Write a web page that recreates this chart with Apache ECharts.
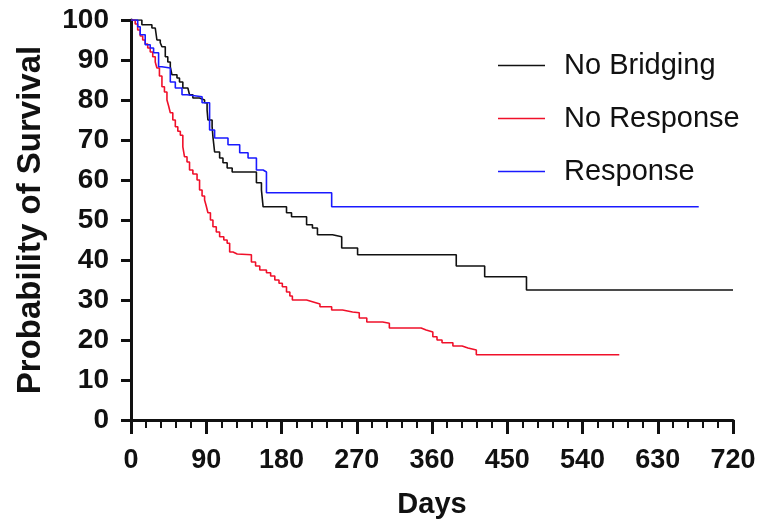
<!DOCTYPE html>
<html>
<head>
<meta charset="utf-8">
<script src="https://cdn.jsdelivr.net/npm/echarts@6/dist/echarts.min.js"></script>
<style>
  html, body { margin: 0; padding: 0; background: #fff; }
  #chart { width: 764px; height: 532px; }
</style>
</head>
<body>
<div id="chart"></div>
<script>
// Kaplan-Meier curves, days vs probability of survival (%)
const seriesNames = ["No Bridging", "No Response", "Response"];

const noBridgingDays = [0, 2, 13, 25, 29, 31, 35, 37, 41, 44, 47, 49, 55, 58, 62, 68, 70, 74, 82, 88, 91, 92, 97, 98, 100, 106, 110, 115, 121, 150, 156, 158, 186, 192, 210, 217, 223, 241, 252, 271, 389, 423, 473, 720];
const noBridgingPct = [100, 100, 98.8, 98, 97.5, 95, 94.3, 93.3, 90.8, 89.5, 88.3, 86.3, 85.5, 84.5, 83, 82.5, 81.3, 80.5, 80, 79.3, 77.5, 75, 73.3, 70.8, 67, 65.5, 64.3, 63, 62, 59.3, 57.5, 53.3, 51.8, 50.8, 48.8, 48, 46.3, 45.8, 43, 41.3, 38.5, 35.8, 32.5, 32.5];

const noResponseDays = [0, 5, 8, 11, 14, 17, 20, 23, 26, 29, 31, 34, 37, 40, 43, 45, 47, 50, 53, 56, 59, 62, 64, 67, 70, 74, 79, 82, 85, 88, 90, 92, 95, 98, 102, 106, 111, 115, 118, 122, 127, 144, 149, 154, 162, 167, 172, 177, 181, 186, 190, 193, 210, 218, 226, 240, 253, 265, 273, 282, 301, 309, 341, 347, 353, 361, 366, 372, 385, 396, 403, 413, 584];
const noResponsePct = [100, 99, 97.5, 96, 95, 94, 93, 92, 90.8, 89.5, 88, 86, 83.3, 82, 80, 78.5, 76.8, 75, 73.3, 72.2, 71.2, 68.3, 65.8, 64.5, 62.5, 61.5, 60, 57.5, 56, 55, 53.5, 51.8, 50, 48.3, 47, 45.8, 45, 44.2, 42, 41.5, 41.3, 39.5, 38.5, 37.5, 36.8, 36, 35, 34.2, 33.3, 32, 31, 30, 29.5, 29, 28.3, 27.5, 27, 26.8, 25.5, 24.5, 24.2, 23, 23, 22.5, 22, 20.8, 20, 19.3, 18.5, 18, 17.5, 16.3, 16.3];

const responseDays = [0, 8, 11, 17, 23, 27, 33, 37, 47, 53, 61, 67, 85, 94, 100, 116, 130, 140, 150, 158, 162, 240, 679];
const responsePct = [100, 98.3, 96.3, 93.8, 93, 91.8, 88.3, 88, 84.5, 83, 81.3, 80.8, 79.3, 72.5, 70.5, 68.8, 66.8, 65.5, 62.5, 62, 56.8, 53.3, 53.3];

const xMin = 0, xMax = 720, xStep = 90;
const yMin = 0, yMax = 100, yStep = 10;

const colors = ["#111111", "#f0102a", "#1a1aff"];

function pairs(xs, ys) {
  return xs.map((x, i) => [x, ys[i]]);
}

const curves = [
  pairs(noBridgingDays, noBridgingPct),
  pairs(noResponseDays, noResponsePct),
  pairs(responseDays, responsePct),
];

const font = "Liberation Sans, Arial";

const myChart = echarts.init(document.getElementById("chart"));
const option = {
  animation: false,
  backgroundColor: "#ffffff",
  grid: {
    left: 131,
    right: 31,
    top: 20,
    bottom: 112,
    containLabel: false,
    outerBoundsMode: "none",
  },
  legend: {
    orient: "vertical",
    left: 493,
    top: 46,
    icon: "rect",
    itemWidth: 47,
    itemHeight: 1.6,
    itemGap: 24,
    data: seriesNames,
    textStyle: {
      fontFamily: font,
      fontSize: 29,
      color: "#111",
      padding: [0, 0, 0, 14],
    },
  },
  xAxis: {
    type: "value",
    min: xMin,
    max: xMax,
    interval: xStep,
    name: "Days",
    nameLocation: "middle",
    nameGap: 70,
    nameTextStyle: {
      fontFamily: font,
      fontWeight: "bold",
      fontSize: 29,
      color: "#111",
    },
    axisLine: {
      show: true,
      onZero: false,
      lineStyle: { color: "#111", width: 3 },
    },
    axisTick: {
      show: true,
      length: 14,
      lineStyle: { color: "#111", width: 3 },
    },
    minorTick: {
      show: true,
      splitNumber: 5,
      length: 8,
      lineStyle: { color: "#111", width: 2 },
    },
    axisLabel: {
      fontFamily: font,
      fontWeight: "bold",
      fontSize: 27,
      color: "#111",
      margin: 27,
    },
    splitLine: { show: false },
  },
  yAxis: {
    type: "value",
    min: yMin,
    max: yMax,
    interval: yStep,
    name: "Probability of Survival",
    nameLocation: "middle",
    nameGap: 84,
    nameTextStyle: {
      fontFamily: font,
      fontWeight: "bold",
      fontSize: 33,
      color: "#111",
    },
    axisLine: {
      show: true,
      onZero: false,
      lineStyle: { color: "#111", width: 3 },
    },
    axisTick: {
      show: true,
      length: 10,
      lineStyle: { color: "#111", width: 3 },
    },
    axisLabel: {
      fontFamily: font,
      fontWeight: "bold",
      fontSize: 28,
      color: "#111",
      margin: 22,
    },
    splitLine: { show: false },
  },
  series: seriesNames.map((name, i) => ({
    name: name,
    type: "line",
    step: "end",
    symbol: "none",
    data: curves[i],
    color: colors[i],
    lineStyle: { color: colors[i], width: 1.6 },
  })),
};
myChart.setOption(option);
</script>
</body>
</html>
